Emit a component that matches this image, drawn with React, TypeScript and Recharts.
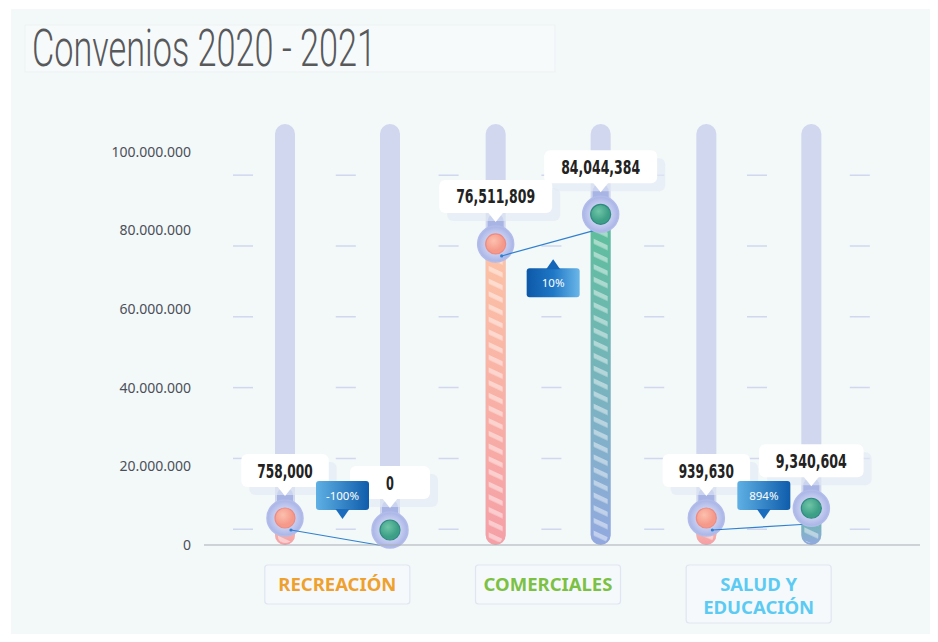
import { BarChart, Bar, XAxis, YAxis, CartesianGrid } from 'recharts';

const categories = ['RECREACIÓN', 'COMERCIALES', 'SALUD Y EDUCACIÓN'];
const values2020 = [758000, 76511809, 939630];
const values2021 = [0, 84044384, 9340604];
const yTicks = [0, 20000000, 40000000, 60000000, 80000000, 100000000];
// short guide dashes drawn between the bars
const guideTicks = [4000000, 22000000, 40000000, 58000000, 76000000, 94000000];
const yMax = 107000000;

const categoryColors = ['#eea12e', '#7cc144', '#5ccbf3'];

const BAR_SIZE = 20;
const BAR_GAP = 85;

const data = categories.map((name, i) => ({
  name,
  y2020: values2020[i],
  y2021: values2021[i],
}));

const withDots = (v: number) => String(v).replace(/\B(?=(\d{3})+(?!\d))/g, '.');
const withCommas = (v: number) => String(v).replace(/\B(?=(\d{3})+(?!\d))/g, ',');

// keep the marker clear of the baseline for small values
const markerY = (y: number, base: number, v: number) => (v > 0 ? Math.min(y, base - 27) : base - 15);

function Callout({ cx, cy, text }: { cx: number; cy: number; text: string }) {
  const w = Math.max(80, text.length * 8.5 + 28);
  const h = 33;
  const bottom = cy - 31;
  const top = bottom - h;
  const left = cx - w / 2;
  return (
    <g>
      <rect x={left + 8} y={top + 8} width={w} height={h} rx={6} fill="#e3eaf5" opacity={0.6} />
      <rect x={left} y={top} width={w} height={h} rx={6} fill="#ffffff" />
      <path d={`M${cx - 8},${bottom - 1} L${cx},${bottom + 9} L${cx + 8},${bottom - 1} Z`} fill="#ffffff" />
      <text
        x={cx}
        y={top + h / 2 + 7}
        textAnchor="middle"
        fontFamily="'DejaVu Sans Condensed', 'DejaVu Sans', sans-serif"
        fontWeight="bold"
        fontSize={19}
        fill="#222222"
        textLength={text.length * 7.9}
        lengthAdjust="spacingAndGlyphs"
      >
        {text}
      </text>
    </g>
  );
}

function Marker({ cx, cy, dot }: { cx: number; cy: number; dot: string }) {
  return (
    <g>
      <rect x={cx - 8} y={cy - 30} width={16} height={30} rx={7} fill="#a7b4e4" />
      <circle cx={cx} cy={cy} r={18} fill="url(#halo)" stroke="#b2bcea" strokeWidth={1.5} />
      <circle cx={cx} cy={cy} r={10} fill={`url(#${dot})`} stroke={dot === 'dotPink' ? '#ee8a80' : '#2f8a80'} strokeWidth={1.2} />
    </g>
  );
}

function FillBar({ x, width, top, base, grad }: any) {
  if (base - top <= 0) return null;
  return (
    <g>
      <rect x={x} y={top} width={width} height={base - top} rx={width / 2} fill={`url(#${grad})`} />
      <rect x={x + 3} y={top + 2} width={width - 6} height={Math.max(0, base - top - 4)} rx={6} fill="url(#stripes)" />
    </g>
  );
}

function Badge({ x, tip, text, below }: { x: number; tip: number; text: string; below: boolean }) {
  const w = 53;
  const h = 29;
  const top = below ? tip + 9 : tip - 9 - h;
  const tail = below
    ? `M${x - 7},${tip + 10} L${x},${tip} L${x + 7},${tip + 10} Z`
    : `M${x - 7},${tip - 10} L${x},${tip} L${x + 7},${tip - 10} Z`;
  const fill = below ? 'url(#badgeDark)' : 'url(#badgeLight)';
  return (
    <g>
      <rect x={x - w / 2} y={top} width={w} height={h} rx={3} fill={fill} />
      <path d={tail} fill={below ? '#1565b8' : '#1c6cbd'} />
      <text x={x} y={top + h / 2 + 4} textAnchor="middle" fontFamily="'Noto Sans', sans-serif" fontSize={11.5} fill="#ffffff">
        {text}
      </text>
    </g>
  );
}

function Shape2020(props: any) {
  const { x, y, width, height, payload } = props;
  const base = y + height;
  const cx = x + width / 2;
  const v = payload.y2020;
  const cy = markerY(y, base, v);
  return (
    <g>
      {v > 0 && <FillBar x={x} width={width} top={cy} base={base} grad="grad2020" />}
      <Marker cx={cx} cy={cy} dot="dotPink" />
      <Callout cx={cx} cy={cy} text={withCommas(v)} />
    </g>
  );
}

function Shape2021(props: any) {
  const { x, y, width, height, payload, background } = props;
  const base = y + height;
  const cx = x + width / 2;
  const v = payload.y2021;
  const cy = markerY(y, base, v);
  const prev = payload.y2020;
  const ppu = background.height / yMax;
  const px = cx - (BAR_SIZE + BAR_GAP);
  const py = markerY(base - prev * ppu, base, prev);
  const change = Math.round(((v - prev) / prev) * 100);
  const below = Math.min(v, prev) > yMax * 0.2;
  const sx = px + 6;
  const sy = py + 12;
  const ex = cx - 6;
  const ey = cy + 16;
  const tip = below ? (sy + ey) / 2 + 16 : py + 1;
  return (
    <g>
      {v > 0 && <FillBar x={x} width={width} top={cy} base={base} grad="grad2021" />}
      <line x1={sx} y1={sy} x2={ex} y2={ey} stroke="#2f80d0" strokeWidth={1.2} />
      <circle cx={sx} cy={sy} r={1.6} fill="#2f80d0" />
      <Marker cx={cx} cy={cy} dot="dotGreen" />
      <Callout cx={cx} cy={cy} text={withCommas(v)} />
      <Badge x={(px + cx) / 2 + 5} tip={tip} text={`${change}%`} below={below} />
    </g>
  );
}

function wrapLabel(label: string, max = 11) {
  const lines: string[] = [];
  let cur = '';
  label.split(' ').forEach((w) => {
    const next = cur ? `${cur} ${w}` : w;
    if (next.length > max && cur) {
      lines.push(cur);
      cur = w;
    } else {
      cur = next;
    }
  });
  if (cur) lines.push(cur);
  return lines;
}

function CategoryTick(props: any) {
  const { x, y, payload, index } = props;
  const lines = wrapLabel(payload.value);
  const w = 145;
  const h = lines.length > 1 ? 58 : 39;
  return (
    <g>
      <rect x={x - w / 2} y={y} width={w} height={h} rx={3} fill="#f6f9fb" stroke="#dfe5f2" strokeWidth={1.2} />
      {lines.map((line, i) => (
        <text
          key={line}
          x={x}
          y={y + 26 + i * 23}
          textAnchor="middle"
          fontFamily="'Noto Sans', sans-serif"
          fontWeight="bold"
          fontSize={18.5}
          fill={categoryColors[index % categoryColors.length]}
        >
          {line}
        </text>
      ))}
    </g>
  );
}

function GuideLine(props: any) {
  const { x1, y1, x2, y2 } = props;
  return (
    <line
      x1={x1}
      y1={y1}
      x2={x2}
      y2={y2}
      stroke="#d0d7ef"
      strokeWidth={1.5}
      strokeDasharray="20 82.8"
      strokeDashoffset={73.8}
    />
  );
}

const guideCoordinates = ({ offset }: any) =>
  guideTicks.map((v) => offset.top + offset.height * (1 - v / yMax));

export default function App() {
  return (
    <div style={{ position: 'relative', width: 938, height: 642, margin: -8, background: '#ffffff', overflow: 'hidden' }}>
      <div style={{ position: 'absolute', left: 11, top: 9, right: 0, bottom: 0, background: '#f3f8f9' }} />
      <svg width={938} height={100} style={{ position: 'absolute', left: 0, top: 0 }}>
        <rect x={25} y={25} width={530} height={47} fill="#f7fafb" stroke="#edf1f3" />
        <text
          x={32}
          y={66}
          fontFamily="Roboto, 'Noto Sans', sans-serif"
          fontWeight={300}
          fontSize={52}
          fill="#58595b"
          textLength={344}
          lengthAdjust="spacingAndGlyphs"
        >
          Convenios 2020 - 2021
        </text>
      </svg>
      <div style={{ position: 'absolute', left: 0, top: 0 }}>
        <BarChart
          width={938}
          height={642}
          data={data}
          margin={{ top: 124, right: 18, bottom: 17, left: 0 }}
          barGap={BAR_GAP}
        >
          <defs>
            <linearGradient id="grad2020" x1="0" y1="0" x2="0" y2="1">
              <stop offset="0%" stopColor="#fcc3a6" />
              <stop offset="100%" stopColor="#f59fa6" />
            </linearGradient>
            <linearGradient id="grad2021" x1="0" y1="0" x2="0" y2="1">
              <stop offset="0%" stopColor="#5cbf99" />
              <stop offset="100%" stopColor="#93a9e0" />
            </linearGradient>
            <radialGradient id="halo">
              <stop offset="55%" stopColor="#c9d0f1" />
              <stop offset="100%" stopColor="#a9b4e6" />
            </radialGradient>
            <radialGradient id="dotPink" cx="40%" cy="35%">
              <stop offset="0%" stopColor="#fcc0ae" />
              <stop offset="100%" stopColor="#f5998a" />
            </radialGradient>
            <radialGradient id="dotGreen" cx="40%" cy="35%">
              <stop offset="0%" stopColor="#6fc5a6" />
              <stop offset="100%" stopColor="#3c9f86" />
            </radialGradient>
            <linearGradient id="badgeLight" x1="0" y1="0" x2="1" y2="0">
              <stop offset="0%" stopColor="#5fb0e4" />
              <stop offset="100%" stopColor="#0f5cab" />
            </linearGradient>
            <linearGradient id="badgeDark" x1="0" y1="0" x2="1" y2="0">
              <stop offset="0%" stopColor="#0d58a8" />
              <stop offset="50%" stopColor="#1f78c6" />
              <stop offset="100%" stopColor="#6ab6e8" />
            </linearGradient>
            <pattern id="stripes" patternUnits="userSpaceOnUse" width={20} height={11.5} patternTransform="rotate(25)">
              <rect x={0} y={0} width={20} height={4.5} fill="#ffffff" fillOpacity={0.45} />
            </pattern>
          </defs>
          <CartesianGrid vertical={false} horizontal={GuideLine} horizontalCoordinatesGenerator={guideCoordinates} />
          <XAxis
            dataKey="name"
            axisLine={{ stroke: '#a9adb3' }}
            tickLine={false}
            tickSize={0}
            tickMargin={20}
            height={80}
            padding={{ left: 28, right: 56 }}
            tick={CategoryTick}
            interval={0}
          />
          <YAxis
            width={204}
            domain={[0, yMax]}
            ticks={yTicks}
            tickFormatter={withDots}
            axisLine={false}
            tickLine={false}
            tickMargin={7}
            tick={{ fontSize: 14, fill: '#4b4f58', fontFamily: "'Noto Sans', sans-serif" }}
          />
          <Bar
            dataKey="y2020"
            barSize={BAR_SIZE}
            background={{ fill: '#d0d7ee', radius: 10 }}
            shape={Shape2020}
            isAnimationActive={false}
          />
          <Bar
            dataKey="y2021"
            barSize={BAR_SIZE}
            background={{ fill: '#d0d7ee', radius: 10 }}
            shape={Shape2021}
            isAnimationActive={false}
          />
        </BarChart>
      </div>
    </div>
  );
}
